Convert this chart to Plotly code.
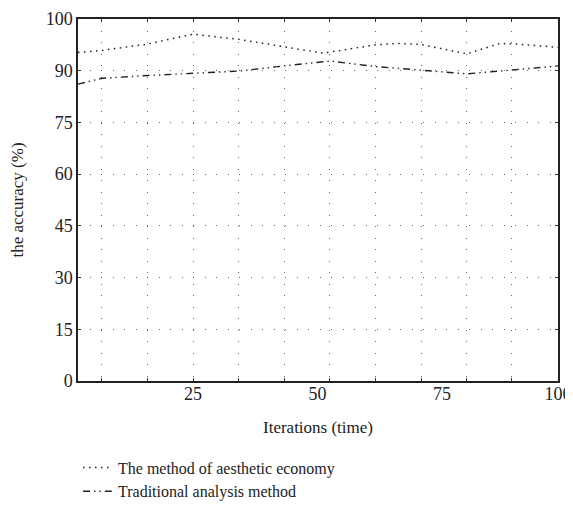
import plotly.graph_objects as go

# iterations (x axis ends a little short of 100)
aesthetic_x = [1.9, 6.7, 15.8, 25.0, 34.2, 43.3, 51.1, 61.7, 66.0, 70.8, 80.0, 86.6, 89.0, 98.3]
aesthetic_y = [95.3, 95.9, 97.7, 100.6, 99.1, 97.0, 95.1, 97.5, 97.9, 97.6, 94.9, 97.9, 97.8, 96.8]

traditional_x = [1.9, 6.7, 15.8, 25.0, 34.2, 43.3, 52.5, 61.7, 70.8, 80.0, 89.0, 98.3]
traditional_y = [86.1, 87.8, 88.6, 89.3, 89.9, 91.4, 92.8, 91.2, 90.2, 89.1, 90.2, 91.4]

x_grid = [6.7, 15.8, 25.0, 34.2, 43.3, 52.5, 61.7, 70.8, 80.0, 89.0]
x_tickvals = [25, 50, 75, 98.3]
x_ticktext = ["25", "50", "75", "100"]
y_tickvals = [0, 15, 30, 45, 60, 75, 90, 105]
y_ticktext = ["0", "15", "30", "45", "60", "75", "90", "100"]

FONT = "Liberation Serif, DejaVu Serif, serif"
GRID_DASH = "1px,10.5px"

fig = go.Figure()
fig.add_trace(go.Scatter(
    x=aesthetic_x, y=aesthetic_y, mode="lines",
    name="The method of aesthetic economy",
    line=dict(color="#222222", width=1.5, dash="1.5px,4.5px"),
))
fig.add_trace(go.Scatter(
    x=traditional_x, y=traditional_y, mode="lines",
    name="Traditional analysis method",
    line=dict(color="#222222", width=1.4, dash="7px,4px,1.4px,4px,1.4px,4px"),
))
# invisible trace so the label axis gets drawn
fig.add_trace(go.Scatter(x=[traditional_x[0]], y=[traditional_y[0]], xaxis="x2",
                         mode="markers", marker=dict(opacity=0), showlegend=False,
                         hoverinfo="skip"))

x_range = [1.9, 98.3]
# page body has an 8px margin all round, so keep the figure inside the window
fig.update_layout(
    width=565, height=495,
    margin=dict(l=70, r=15, t=11, b=122),
    paper_bgcolor="white", plot_bgcolor="white",
    font=dict(family=FONT, size=17, color="#222222"),
    showlegend=True,
    # container ref so the legend doesn't push the bottom margin
    legend=dict(x=0.0, y=0.106, xanchor="left", yanchor="top", yref="container",
                font=dict(family=FONT, size=16, color="#222222"),
                bgcolor="rgba(0,0,0,0)", itemwidth=30, tracegroupgap=0),
    xaxis=dict(
        range=x_range, tickvals=x_grid, showticklabels=False, automargin=False,
        ticks="inside", ticklen=3, tickcolor="#333333",
        showline=True, linecolor="#222222", linewidth=1.5, mirror="ticks",
        showgrid=True, gridcolor="#666666", gridwidth=1, griddash=GRID_DASH,
        zeroline=False,
        title=dict(text="Iterations (time)", standoff=39, font=dict(size=17)),
    ),
    xaxis2=dict(
        range=x_range, overlaying="x", anchor="y", side="bottom", automargin=False,
        tickvals=x_tickvals, ticktext=x_ticktext, ticks="", ticklabeloverflow="allow",
        showline=False, showgrid=False, zeroline=False,
        tickfont=dict(size=18),
    ),
    yaxis=dict(
        range=[0, 105], tickvals=y_tickvals, ticktext=y_ticktext, automargin=False,
        ticks="inside", ticklen=3, tickcolor="#333333", ticklabeloverflow="allow",
        showline=True, linecolor="#222222", linewidth=1.5, mirror="ticks",
        showgrid=True, gridcolor="#666666", gridwidth=1, griddash=GRID_DASH,
        zeroline=False, tickfont=dict(size=18),
        title=dict(text="the accuracy (%)", standoff=28, font=dict(size=17)),
    ),
)

fig.write_html("out.html")
